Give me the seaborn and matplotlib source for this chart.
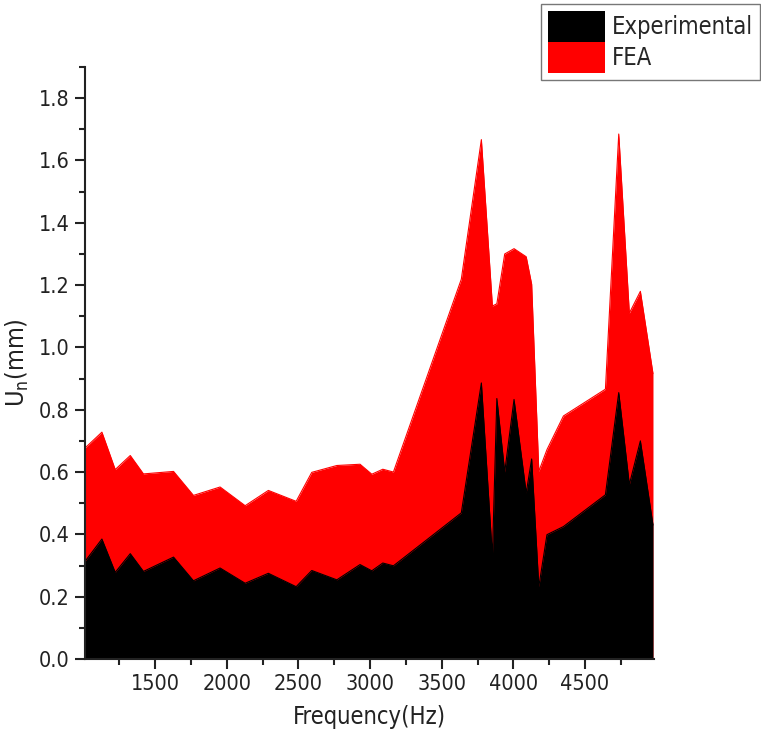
import matplotlib
matplotlib.use("Agg")
import matplotlib.pyplot as plt
from matplotlib.patches import Patch
from matplotlib.ticker import MultipleLocator
import seaborn as sns
import pandas as pd

freq = [1010, 1128, 1221, 1326, 1418, 1628, 1767, 1953, 2128, 2290, 2484,
        2593, 2768, 2930, 3012, 3089, 3163, 3637, 3777, 3854, 3885, 3940,
        4005, 4090, 4128, 4178, 4235, 4350, 4643, 4736, 4810, 4887, 4975]
fea = [0.677, 0.728, 0.608, 0.653, 0.594, 0.602, 0.525, 0.552, 0.492, 0.541, 0.506,
       0.599, 0.621, 0.625, 0.593, 0.609, 0.600, 1.219, 1.667, 1.133, 1.14, 1.30,
       1.317, 1.291, 1.203, 0.602, 0.672, 0.78, 0.866, 1.685, 1.11, 1.18, 0.916]
experimental = [0.313, 0.385, 0.278, 0.338, 0.281, 0.327, 0.251, 0.292, 0.243, 0.275, 0.232,
                0.284, 0.254, 0.303, 0.283, 0.308, 0.299, 0.469, 0.886, 0.329, 0.836, 0.60,
                0.833, 0.533, 0.642, 0.232, 0.399, 0.425, 0.527, 0.855, 0.56, 0.70, 0.43]
series_names = ["Experimental", "FEA"]
series_colors = ["#000000", "#ff0000"]

df = pd.DataFrame({"Frequency": freq, "FEA": fea, "Experimental": experimental})

sns.set_theme(style="ticks")
plt.rcParams["font.family"] = ["DejaVu Sans"]
plt.rcParams["font.stretch"] = "condensed"

fig = plt.figure(figsize=(7.61, 7.49), dpi=100)
ax = fig.add_axes([0.1117, 0.1202, 0.7473, 0.7903])

sns.lineplot(data=df, x="Frequency", y="FEA", color=series_colors[1], lw=0.8, ax=ax)
ax.fill_between(df["Frequency"], 0, df["FEA"], color=series_colors[1], lw=0)
sns.lineplot(data=df, x="Frequency", y="Experimental", color=series_colors[0], lw=0.8, ax=ax)
ax.fill_between(df["Frequency"], 0, df["Experimental"], color=series_colors[0], lw=0)

ax.set_xlim(1010, 4980)
ax.set_ylim(0, 1.9)
ax.xaxis.set_major_locator(MultipleLocator(500))
ax.xaxis.set_minor_locator(MultipleLocator(250))
ax.yaxis.set_major_locator(MultipleLocator(0.2))
ax.yaxis.set_minor_locator(MultipleLocator(0.1))
ax.set_xticks([1500, 2000, 2500, 3000, 3500, 4000, 4500])
ax.set_yticks([0.0, 0.2, 0.4, 0.6, 0.8, 1.0, 1.2, 1.4, 1.6, 1.8])
ax.set_yticklabels(["0.0", "0.2", "0.4", "0.6", "0.8", "1.0", "1.2", "1.4", "1.6", "1.8"])

for s in ["top", "right"]:
    ax.spines[s].set_visible(False)
for s in ["left", "bottom"]:
    ax.spines[s].set_linewidth(1.5)
    ax.spines[s].set_color("#222222")
ax.tick_params(which="major", direction="out", length=7, width=1.5, labelsize=15.5, colors="#222222", pad=4)
ax.tick_params(which="minor", direction="out", length=4, width=1.5, colors="#222222")

ax.set_xlabel("Frequency(Hz)", fontsize=17, color="#222222", labelpad=8)
ax.set_ylabel("U$_\\mathregular{n}$(mm)", fontsize=18, color="#222222", labelpad=6)

handles = [Patch(facecolor=series_colors[0], edgecolor="none"),
           Patch(facecolor=series_colors[1], edgecolor="none")]
leg = fig.legend(handles, series_names, loc="upper right", bbox_to_anchor=(0.999, 0.995),
                 fontsize=17, frameon=True, fancybox=False, framealpha=1,
                 edgecolor="#777777", handlelength=2.4, handleheight=1.65,
                 labelspacing=0.0, handletextpad=0.3, borderpad=0.3, borderaxespad=0)
leg.get_frame().set_linewidth(1.0)

fig.savefig("out.png", dpi=100)
